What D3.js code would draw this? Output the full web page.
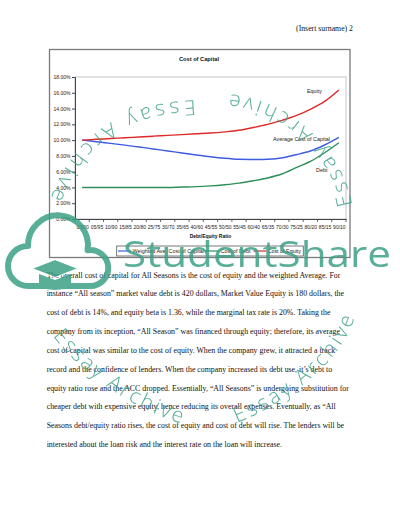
<!DOCTYPE html>
<html><head><meta charset="utf-8">
<script src="https://cdn.jsdelivr.net/npm/d3@7"></script>
<style>html,body{margin:0;padding:0;background:#fff;overflow:hidden}</style>
</head><body>
<svg id="page" width="400" height="517"></svg>
<script>
// ---------- data ----------
const categories = ["0/100","05/95","10/90","15/85","20/80","25/75","30/70","35/65","40/60","45/55",
                    "50/50","55/45","60/40","65/35","70/30","75/25","80/20","85/15","90/10"];
const yTicks = [0,2,4,6,8,10,12,14,16,18];
const waccValues   = [10.0,9.80,9.58,9.36,9.12,8.88,8.62,8.37,8.12,7.89,7.70,7.57,7.55,7.58,7.74,8.15,8.62,9.38,10.34];
const debtValues   = [4.0,4.0,4.0,4.0,4.0,4.0,4.0,4.05,4.1,4.2,4.35,4.55,4.85,5.2,5.7,6.5,7.3,8.4,9.67];
const equityValues = [10.0,10.1,10.2,10.3,10.4,10.5,10.6,10.7,10.8,10.9,11.05,11.25,11.6,12.0,12.5,13.1,13.9,14.9,16.35];
const seriesNames = ["Weighted Ave. Cost of Capital","Cost of Debt","Cost of Equity"];
const lineLabels = ["Average Cost of Capital","Debt","Equity"];
const chartTitle = "Cost of Capital";
const xTitle = "Debt/Equity Ratio";
const headerText = "(Insert surname) 2";
const bodyLines = [
 "The overall cost of capital for All Seasons is the cost of equity and the weighted Average. For",
 "instance \u201CAll season\u201D market value debt is 420 dollars, Market Value Equity is 180 dollars, the",
 "cost of debt is 14%, and equity beta is 1.36, while the marginal tax rate is 20%. Taking the",
 "company from its inception, \u201CAll Season\u201D was financed through equity; therefore, its average",
 "cost of capital was similar to the cost of equity. When the company grew, it attracted a track",
 "record and the confidence of lenders. When the company increased its debt use, it\u2019s debt to",
 "equity ratio rose and the ACC dropped. Essentially, \u201CAll Seasons\u201D is undergoing substitution for",
 "cheaper debt with expensive equity, hence reducing its overall expenses. Eventually, as \u201CAll",
 "Seasons debt/equity ratio rises, the cost of equity and cost of debt will rise. The lenders will be",
 "interested about the loan risk and the interest rate on the loan will increase."
];
const watermarkWord = "Essay Archive";
const brandText = "StudentShare";

// ---------- layout ----------
const svg = d3.select("#page");
const SANS = "'Liberation Sans', Arial, sans-serif";
const SERIF = "'Liberation Serif', 'Times New Roman', serif";
const colors = ["#3f5be0", "#2f8f5a", "#e02828"];

function fitSize(text, family, width, weight) {
  const t = svg.append("text").attr("font-family", family).attr("font-size", 20)
    .attr("font-weight", weight || "normal").text(text);
  const w = t.node().getComputedTextLength();
  t.remove();
  return 20 * width / w;
}

// header
const hfs = fitSize(headerText, SERIF, 57);
svg.append("text").attr("x", 353).attr("y", 30.5).attr("text-anchor", "end")
  .attr("font-family", SERIF).attr("font-size", hfs).attr("fill", "#111").text(headerText);

// chart frame
svg.append("rect").attr("x", 49.5).attr("y", 49.5).attr("width", 300.5).attr("height", 208)
  .attr("fill", "#fff").attr("stroke", "#7a7a7a").attr("stroke-width", 1.3);

const L = 75, R = 346, T = 77, B = 219;
const x = d3.scalePoint().domain(categories).range([L, R]).padding(0.5);
const y = d3.scaleLinear().domain([0, 18]).range([B, T]);

svg.append("rect").attr("x", L).attr("y", T).attr("width", R - L).attr("height", B - T)
  .attr("fill", "#fff").attr("stroke", "#c4c4c4").attr("stroke-width", 1);

svg.append("text").attr("x", 199).attr("y", 61).attr("text-anchor", "middle")
  .attr("font-family", SANS).attr("font-weight", "bold").attr("font-size", 5.7)
  .attr("fill", "#111").text(chartTitle);

// y axis
const ya = svg.append("g").attr("transform", `translate(${L},0)`)
  .call(d3.axisLeft(y).tickValues(yTicks).tickSize(3).tickPadding(1.5)
    .tickFormat(d => d.toFixed(2) + "%"));
ya.select(".domain").attr("stroke", "#444").attr("stroke-width", 1);
ya.selectAll(".tick line").attr("stroke", "#444");
ya.selectAll("text").attr("font-family", SANS).attr("font-size", 5).attr("fill", "#222");

// x axis
const xa = svg.append("g").attr("transform", `translate(0,${B})`)
  .call(d3.axisBottom(x).tickSize(0).tickPadding(6));
xa.select(".domain").attr("stroke", "#444").attr("stroke-width", 1);
xa.selectAll("text").attr("font-family", SANS).attr("font-size", 5).attr("fill", "#222");
const step = x.step();
svg.append("g").selectAll("line").data(d3.range(categories.length + 1)).join("line")
  .attr("x1", i => L + i * step).attr("x2", i => L + i * step)
  .attr("y1", B).attr("y2", B + 3).attr("stroke", "#444").attr("stroke-width", 0.8);

svg.append("text").attr("x", (L + R) / 2).attr("y", 237.8).attr("text-anchor", "middle")
  .attr("font-family", SANS).attr("font-weight", "bold").attr("font-size", 5)
  .attr("fill", "#111").text(xTitle);

// series lines
const allSeries = [waccValues, debtValues, equityValues];
const line = d3.line().x((d, i) => x(categories[i])).y(d => y(d)).curve(d3.curveCatmullRom.alpha(0.5));
svg.append("g").selectAll("path").data(allSeries).join("path")
  .attr("d", d => line(d)).attr("fill", "none")
  .attr("stroke", (d, i) => colors[i]).attr("stroke-width", 1.4);

// in-plot labels
const labelPos = [[273, 140.5], [316, 172], [307, 92.5]];
svg.append("g").selectAll("text").data(lineLabels).join("text")
  .attr("x", (d, i) => labelPos[i][0]).attr("y", (d, i) => labelPos[i][1])
  .attr("font-family", SANS).attr("font-size", 5.4).attr("fill", "#222").text(d => d);

// legend
svg.append("rect").attr("x", 116.7).attr("y", 246).attr("width", 186.6).attr("height", 10)
  .attr("fill", "#fff").attr("stroke", "#555").attr("stroke-width", 0.8);
const legX = [[118, 131, 132.5], [205, 219, 220.5], [253.5, 266.5, 267.5]];
const lg = svg.append("g");
seriesNames.forEach((n, i) => {
  lg.append("line").attr("x1", legX[i][0]).attr("x2", legX[i][1]).attr("y1", 251).attr("y2", 251)
    .attr("stroke", colors[i]).attr("stroke-width", 1.2);
  lg.append("text").attr("x", legX[i][2]).attr("y", 253).attr("font-family", SANS)
    .attr("font-size", 5.4).attr("fill", "#222").text(n);
});

// body text
const bfs = fitSize(bodyLines[0], SERIF, 294);
svg.append("g").selectAll("text").data(bodyLines).join("text")
  .attr("x", 46.7).attr("y", (d, i) => 277.5 + i * 18.85)
  .attr("font-family", SERIF).attr("font-size", bfs).attr("fill", "#111").text(d => d);

// ---------- watermarks ----------
const WM = "rgb(58,160,132)";
const wm = svg.append("g").attr("opacity", 0.85);
// cloud logo
wm.append("path")
  .attr("d", "M28 286 A20 20 0 0 1 28 246 A30 30 0 1 1 87.6 250.2 A18 18 0 1 1 90 286 Z")
  .attr("fill", "none").attr("stroke", WM).attr("stroke-width", 6).attr("stroke-linejoin", "round");
wm.append("path").attr("d", "M39 274 L39 287 Q55 293 71 287 L71 274 L55 280 Z").attr("fill", WM);
wm.append("path").attr("d", "M32 268.5 L55 259.5 L78 268.5 L55 277.5 Z").attr("fill", WM)
  .attr("stroke", "#fff").attr("stroke-width", 1.2);
wm.append("text").attr("x", 123).attr("y", 267).attr("font-family", "'Open Sans', sans-serif")
  .attr("font-size", 37).attr("fill", WM).attr("textLength", 268).attr("lengthAdjust", "spacingAndGlyphs")
  .text(brandText);

// curved "Essay Archive" stamps, laid out glyph by glyph along guide curves
const arcs = [
  "M195 100 C150 102 80 115 50 200",
  "M352 205 C345 160 300 100 228 94",
  "M53 336 C72 362 120 405 183 424",
  "M237 423 C270 410 340 370 355 316"
];
const defs = svg.append("defs");
arcs.forEach((d, i) => {
  const p = defs.append("path").attr("id", "wm" + i).attr("d", d);
  const len = p.node().getTotalLength();
  const tmp = svg.append("text").attr("font-family", "'Open Sans', sans-serif").attr("font-weight", 300)
    .attr("font-size", 21);
  tmp.append("textPath").attr("href", "#wm" + i).attr("textLength", len - 2)
    .attr("lengthAdjust", "spacing").text(watermarkWord);
  const node = tmp.node();
  const glyphs = [];
  for (let k = 0; k < watermarkWord.length; k++) {
    const ch = watermarkWord[k];
    if (ch === " ") continue;
    try {
      const pt = node.getStartPositionOfChar(k);
      const rot = node.getRotationOfChar(k);
      glyphs.push({ch, x: pt.x, y: pt.y, r: rot});
    } catch (e) {}
  }
  tmp.remove();
  wm.append("g").selectAll("text").data(glyphs).join("text")
    .attr("transform", g => `translate(${g.x},${g.y}) rotate(${g.r})`)
    .attr("font-family", "'Open Sans', sans-serif").attr("font-weight", 300)
    .attr("font-size", 21).attr("fill", WM).text(g => g.ch);
});
</script>
</body></html>
